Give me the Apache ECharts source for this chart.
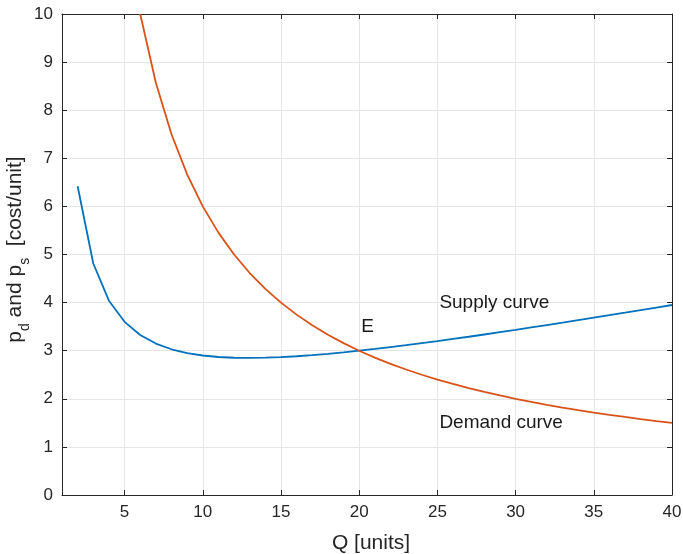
<!DOCTYPE html>
<html>
<head>
<meta charset="utf-8">
<script src="https://cdn.jsdelivr.net/npm/echarts@6/dist/echarts.min.js"></script>
<style>html,body{margin:0;padding:0;background:#fff;}#c{width:683px;height:554px;}</style>
</head>
<body>
<div id="c"></div>
<script>
var supplyQ = [2,3,4,5,6,7,8,9,10,11,12,13,14,15,16,17,18,19,20,21,22,23,24,25,26,27,28,29,30,31,32,33,34,35,36,37,38,39,40];
var supplyP = [6.42,4.813,4.04,3.6,3.327,3.149,3.03,2.951,2.9,2.869,2.853,2.849,2.854,2.867,2.885,2.908,2.936,2.966,3.0,3.036,3.075,3.115,3.157,3.2,3.245,3.29,3.337,3.385,3.433,3.483,3.533,3.583,3.634,3.686,3.738,3.79,3.843,3.896,3.95];
var demandQ = [6,7,8,9,10,11,12,13,14,15,16,17,18,19,20,21,22,23,24,25,26,27,28,29,30,31,32,33,34,35,36,37,38,39,40];
var demandP = [10,8.571,7.5,6.667,6,5.455,5,4.615,4.286,4,3.75,3.529,3.333,3.158,3,2.857,2.727,2.609,2.5,2.4,2.308,2.222,2.143,2.069,2,1.935,1.875,1.818,1.765,1.714,1.667,1.622,1.579,1.538,1.5];
var xTicks = [5,10,15,20,25,30,35,40];
var annotations = [
  {text:'Supply curve', x:25, y:4},
  {text:'E', x:20, y:3.5},
  {text:'Demand curve', x:25, y:1.5}
];

function pairs(xs, ys){ return xs.map(function(x,i){ return [x, ys[i]]; }); }

var font = 'Liberation Sans, Arial, Helvetica, sans-serif';
var axisCol = '#262626';
var gridCol = '#e6e6e6';
var chart = echarts.init(document.getElementById('c'));
chart.setOption({
  animation:false,
  backgroundColor:'#fff',
  grid:{left:62, right:11, top:14, bottom:59, show:false,
    containLabel:false, outerBoundsMode:'none'},
  xAxis:[{
    type:'value', min:1, max:40, interval:5, position:'bottom',
    axisLine:{show:true, onZero:false, lineStyle:{color:axisCol}},
    axisTick:{show:true, inside:true, length:5, lineStyle:{color:axisCol},
      customValues: xTicks},
    axisLabel:{color:axisCol, fontSize:17, fontFamily:font, margin:9,
      customValues: xTicks},
    splitLine:{show:true, lineStyle:{color:gridCol, width:1}},
    name:'Q [units]', nameLocation:'middle', nameGap:38, nameMoveOverlap:false,
    nameTextStyle:{color:axisCol, fontSize:21, fontFamily:font, padding:[0,0,0,8]}
  },{
    type:'value', min:1, max:40, interval:5, position:'top',
    axisLine:{show:true, onZero:false, lineStyle:{color:axisCol}},
    axisTick:{show:true, inside:true, length:5, lineStyle:{color:axisCol},
      customValues: xTicks},
    axisLabel:{show:false},
    splitLine:{show:false}
  }],
  yAxis:[{
    type:'value', min:0, max:10, interval:1, position:'left',
    axisLine:{show:true, onZero:false, lineStyle:{color:axisCol}},
    axisTick:{show:true, inside:true, length:5, lineStyle:{color:axisCol}},
    axisLabel:{color:axisCol, fontSize:17, fontFamily:font, margin:9},
    splitLine:{show:true, lineStyle:{color:gridCol, width:1}},
    name:'{n|p}{s|d}{n| and p}{s|s}{n|  [cost/unit]}', nameLocation:'middle', nameGap:36, nameRotate:90,
    nameMoveOverlap:false,
    nameTextStyle:{color:axisCol, fontSize:21, fontFamily:font, padding:[0,0,0,10],
      rich:{
        n:{fontSize:21, fontFamily:font, color:axisCol, verticalAlign:'bottom', lineHeight:26},
        s:{fontSize:14, fontFamily:font, color:axisCol, verticalAlign:'bottom', lineHeight:26, padding:[0,0,-6,0]}
      }}
  },{
    type:'value', min:0, max:10, interval:1, position:'right',
    axisLine:{show:true, onZero:false, lineStyle:{color:axisCol}},
    axisTick:{show:true, inside:true, length:5, lineStyle:{color:axisCol}},
    axisLabel:{show:false},
    splitLine:{show:false}
  }],
  series:[
    {type:'line', data:pairs(supplyQ, supplyP), showSymbol:false, symbol:'none',
      lineStyle:{color:'#0072BD', width:1.8}, itemStyle:{color:'#0072BD'}, z:3},
    {type:'line', data:pairs(demandQ, demandP), showSymbol:false, symbol:'none',
      lineStyle:{color:'#D95319', width:1.8}, itemStyle:{color:'#D95319'}, z:4,
      markPoint:{
        symbol:'circle', symbolSize:0, silent:true,
        label:{show:true, position:'right', distance:2, color:'#1a1a1a', fontSize:19, fontFamily:font,
          formatter:function(p){ return p.name; }},
        data: annotations.map(function(a){ return {name:a.text, coord:[a.x, a.y]}; })
      }}
  ]
});
</script>
</body>
</html>
